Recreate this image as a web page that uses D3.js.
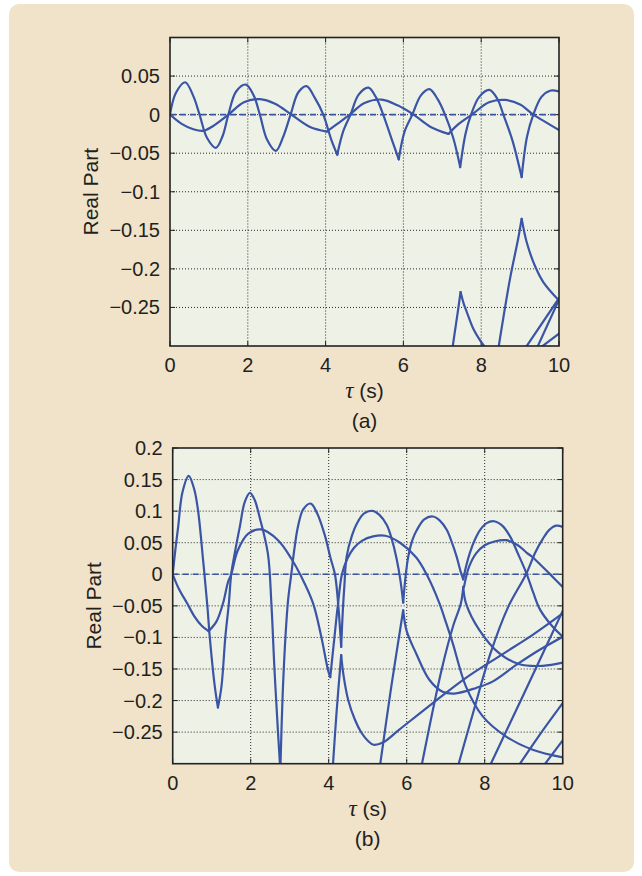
<!DOCTYPE html>
<html>
<head>
<meta charset="utf-8">
<script src="https://cdn.jsdelivr.net/npm/d3@7"></script>
<style>
html,body{margin:0;padding:0;background:#ffffff;}
svg{display:block;}
</style>
</head>
<body>
<svg id="chart" width="642" height="876"></svg>
<script>
// ---------- DATA ----------
const xTicks = [0, 2, 4, 6, 8, 10];
const xTickLabels = ["0", "2", "4", "6", "8", "10"];

const yTicksA = [0.05, 0, -0.05, -0.1, -0.15, -0.2, -0.25];
const yTickLabelsA = ["0.05", "0", "\u22120.05", "\u22120.1", "\u22120.15", "\u22120.2", "\u22120.25"];
const yTicksB = [0.2, 0.15, 0.1, 0.05, 0, -0.05, -0.1, -0.15, -0.2, -0.25];
const yTickLabelsB = ["0.2", "0.15", "0.1", "0.05", "0", "\u22120.05", "\u22120.1", "\u22120.15", "\u22120.2", "\u22120.25"];

// Plot (a): fast oscillating branch, split at cusps
const aFast1 = [[0,0],[0.15,0.028],[0.39,0.042],[0.6,0.024],[0.76,0],[0.95,-0.03],[1.18,-0.043],[1.35,-0.028],[1.5,0],[1.7,0.03],[1.95,0.039],[2.15,0.025],[2.31,0],[2.5,-0.033],[2.72,-0.047],[2.9,-0.03],[3.1,0],[3.3,0.029],[3.51,0.037],[3.72,0.022],[3.94,0],[4.15,-0.033],[4.30,-0.052]];
const aFast2 = [[4.30,-0.052],[4.45,-0.022],[4.64,0],[4.85,0.026],[5.10,0.035],[5.3,0.022],[5.48,0],[5.7,-0.032],[5.88,-0.058]];
const aFast3 = [[5.88,-0.058],[6.03,-0.022],[6.23,0],[6.45,0.025],[6.67,0.033],[6.88,0.02],[7.07,0],[7.28,-0.03],[7.46,-0.068]];
const aFast4 = [[7.46,-0.068],[7.6,-0.024],[7.74,0],[7.95,0.023],[8.21,0.032],[8.42,0.02],[8.57,0],[8.8,-0.033],[9.04,-0.081]];
const aFast5 = [[9.04,-0.081],[9.18,-0.028],[9.34,0],[9.55,0.023],[9.77,0.031],[10,0.030]];
// Plot (a): slow branch
const aSlow1 = [[0,0],[0.3,-0.012],[0.6,-0.019],[0.86,-0.021],[1.1,-0.015],[1.5,0],[1.9,0.016],[2.31,0.020],[2.7,0.014],[3.12,0],[3.6,-0.016],[4.03,-0.022]];
const aSlow2 = [[4.03,-0.022],[4.3,-0.012],[4.62,0],[5.0,0.015],[5.44,0.0195],[5.85,0.012],[6.26,0],[6.7,-0.016],[7.16,-0.025]];
const aSlow3 = [[7.16,-0.025],[7.4,-0.013],[7.76,0],[8.2,0.016],[8.61,0.019],[9.0,0.013],[9.34,0],[9.7,-0.011],[10,-0.020]];
// Plot (a): deeper branches
const aLow1 = [[7.24,-0.31],[7.40,-0.255],[7.47,-0.230]];
const aLow2 = [[7.47,-0.230],[7.55,-0.245],[7.63,-0.256],[7.8,-0.278],[7.95,-0.291],[8.12,-0.303]];
const aLow3 = [[8.42,-0.31],[8.74,-0.213],[8.95,-0.161],[9.04,-0.135]];
const aLow4 = [[9.04,-0.135],[9.17,-0.1655],[9.38,-0.196],[9.6,-0.2174],[10,-0.241]];
const aLow5 = [[9.13,-0.303],[10,-0.238]];
const aLow6 = [[9.43,-0.303],[10,-0.240]];
const aLow7 = [[9.50,-0.303],[10,-0.284]];

// Plot (b): fast branch
const bFast1 = [[0,0],[0.07,0.04],[0.14,0.075],[0.25,0.13],[0.41,0.156],[0.55,0.135],[0.65,0.101],[0.78,0.022],[0.89,-0.051],[0.95,-0.099],[1.08,-0.178],[1.16,-0.211]];
const bFast2 = [[1.16,-0.211],[1.25,-0.178],[1.35,-0.099],[1.44,-0.046],[1.5,0],[1.59,0.033],[1.72,0.075],[1.85,0.115],[1.98,0.129],[2.1,0.118],[2.23,0.09],[2.44,0.033],[2.53,-0.046],[2.61,-0.151],[2.70,-0.25],[2.76,-0.31]];
const bFast3 = [[2.76,-0.31],[2.82,-0.19],[2.9,-0.09],[2.96,-0.04],[3.04,0],[3.12,0.04],[3.21,0.075],[3.35,0.103],[3.54,0.112],[3.7,0.097],[3.9,0.062],[4.05,0.025],[4.16,0],[4.24,-0.045],[4.32,-0.115]];
const bFast4 = [[4.32,-0.115],[4.36,-0.06],[4.4,-0.02],[4.46,0.028],[4.6,0.062],[4.72,0.08],[4.9,0.096],[5.12,0.1005],[5.3,0.094],[5.49,0.078],[5.62,0.055],[5.74,0.025],[5.84,-0.01],[5.91,-0.045]];
const bFast5 = [[5.91,-0.045],[5.96,-0.01],[6.04,0.028],[6.15,0.055],[6.26,0.07],[6.45,0.087],[6.67,0.0915],[6.85,0.085],[7.03,0.07],[7.16,0.05],[7.28,0.028],[7.38,0.005],[7.45,-0.008]];
const bFast6 = [[7.45,-0.008],[7.52,0.012],[7.62,0.034],[7.75,0.055],[7.88,0.07],[8.05,0.081],[8.24,0.084],[8.45,0.077],[8.65,0.06],[8.85,0.033],[9.08,0],[9.25,-0.03],[9.42,-0.056],[9.7,-0.08],[10,-0.099]];
// Plot (b): slow branch
const bSlow1 = [[0,0],[0.15,-0.022],[0.37,-0.046],[0.56,-0.067],[0.75,-0.082],[0.92,-0.09]];
const bSlow2 = [[0.92,-0.09],[1.12,-0.075],[1.29,-0.046],[1.42,-0.012],[1.5,0],[1.67,0.038],[1.93,0.064],[2.27,0.071],[2.7,0.054],[3.04,0.025],[3.3,-0.004],[3.6,-0.046],[3.81,-0.099],[3.98,-0.151],[4.04,-0.163]];
const bSlow3 = [[4.04,-0.163],[4.13,-0.11],[4.24,-0.046],[4.34,0],[4.48,0.025],[4.65,0.042],[4.85,0.053],[5.14,0.06],[5.45,0.061],[5.83,0.05],[6.24,0.027],[6.51,0],[6.84,-0.046],[7.0,-0.075],[7.18,-0.109],[7.52,-0.178],[7.95,-0.225],[8.55,-0.257],[9.23,-0.278],[10,-0.290]];
const bSlow4 = [[7.47,-0.02],[7.52,-0.005],[7.6,0.012],[7.78,0.033],[8.0,0.046],[8.25,0.052],[8.55,0.054],[8.85,0.046],[9.08,0.034],[9.23,0.027],[9.45,0.014],[9.66,0.001],[10,-0.020]];
// Plot (b): branches rising from below
const bLow1 = [[4.10,-0.31],[4.2,-0.22],[4.32,-0.128]];
const bLow2 = [[4.32,-0.128],[4.38,-0.16],[4.5,-0.199],[4.67,-0.23],[4.84,-0.251],[5.01,-0.264],[5.15,-0.27],[5.4,-0.266],[5.81,-0.246],[6.67,-0.204],[7.52,-0.164],[8.37,-0.13],[9.23,-0.096],[10,-0.062]];
const bLow3 = [[5.30,-0.31],[5.6,-0.18],[5.91,-0.057]];
const bLow4 = [[5.91,-0.057],[6.0,-0.09],[6.24,-0.125],[6.58,-0.167],[6.92,-0.186],[7.22,-0.189],[7.78,-0.18],[8.2,-0.17],[8.8,-0.144],[9.4,-0.12],[10,-0.099]];
const bLow5 = [[6.36,-0.31],[6.9,-0.15],[7.2,-0.08],[7.39,-0.046],[7.45,-0.02]];
const bLow6 = [[7.45,-0.02],[7.52,-0.046],[7.86,-0.088],[8.37,-0.125],[8.89,-0.1425],[9.49,-0.145],[10,-0.140]];
const bLow7 = [[7.31,-0.305],[7.7,-0.22],[8.15,-0.125],[8.6,-0.052],[9.06,0],[9.3,0.035],[9.49,0.056],[9.65,0.07],[9.83,0.077],[10,0.075]];
const bLow8 = [[8.12,-0.305],[9.0,-0.19],[10,-0.058]];
const bLow9 = [[8.85,-0.305],[9.4,-0.255],[10,-0.204]];
const bLow10 = [[9.49,-0.305],[10,-0.263]];

const curvesA = [aFast1,aFast2,aFast3,aFast4,aFast5,aSlow1,aSlow2,aSlow3,aLow1,aLow2,aLow3,aLow4,aLow5,aLow6,aLow7];
const curvesB = [bFast1,bFast2,bFast3,bFast4,bFast5,bFast6,bSlow1,bSlow2,bSlow3,bSlow4,bLow1,bLow2,bLow3,bLow4,bLow5,bLow6,bLow7,bLow8,bLow9,bLow10];

// ---------- DRAW ----------
const svg = d3.select("#chart");
const FONT = "'Liberation Sans', Arial, Helvetica, sans-serif";
const TXT = "#231f20";
const BLUE = "#3a54a6";

svg.append("rect").attr("x", 9).attr("y", 4).attr("width", 625).attr("height", 868)
  .attr("rx", 10).attr("fill", "#f0e3c9");

function drawPlot(cfg, id) {
  const x = d3.scaleLinear().domain([0, 10]).range([cfg.x0, cfg.x1]);
  const y = d3.scaleLinear().domain(cfg.yDomain).range([cfg.y1, cfg.y0]);
  const g = svg.append("g");

  g.append("rect").attr("x", cfg.x0).attr("y", cfg.y0)
    .attr("width", cfg.x1 - cfg.x0).attr("height", cfg.y1 - cfg.y0)
    .attr("fill", "#eef1e6");

  // grid
  g.selectAll(".gx").data(xTicks.filter(t => t > 0 && t < 10)).enter().append("line")
    .attr("x1", d => x(d)).attr("x2", d => x(d)).attr("y1", cfg.y0).attr("y2", cfg.y1)
    .attr("stroke", "#2a2a2a").attr("stroke-width", 1).attr("stroke-dasharray", "1,2");
  g.selectAll(".gy").data(cfg.yTicks.filter(t => t > cfg.yDomain[0] && t < cfg.yDomain[1])).enter().append("line")
    .attr("x1", cfg.x0).attr("x2", cfg.x1).attr("y1", d => y(d)).attr("y2", d => y(d))
    .attr("stroke", "#2a2a2a").attr("stroke-width", 1).attr("stroke-dasharray", "1,2");

  // inward ticks
  const tl = 5;
  xTicks.forEach(t => {
    g.append("line").attr("x1", x(t)).attr("x2", x(t)).attr("y1", cfg.y1).attr("y2", cfg.y1 - tl).attr("stroke", "#222");
    g.append("line").attr("x1", x(t)).attr("x2", x(t)).attr("y1", cfg.y0).attr("y2", cfg.y0 + tl).attr("stroke", "#222");
  });
  cfg.yTicks.forEach(t => {
    g.append("line").attr("x1", cfg.x0).attr("x2", cfg.x0 + tl).attr("y1", y(t)).attr("y2", y(t)).attr("stroke", "#222");
    g.append("line").attr("x1", cfg.x1).attr("x2", cfg.x1 - tl).attr("y1", y(t)).attr("y2", y(t)).attr("stroke", "#222");
  });

  // clip
  svg.append("clipPath").attr("id", id).append("rect")
    .attr("x", cfg.x0).attr("y", cfg.y0).attr("width", cfg.x1 - cfg.x0).attr("height", cfg.y1 - cfg.y0);
  const cg = g.append("g").attr("clip-path", `url(#${id})`);

  // zero dashed line
  cg.append("line").attr("x1", x(0)).attr("x2", x(10)).attr("y1", y(0)).attr("y2", y(0))
    .attr("stroke", BLUE).attr("stroke-width", 1.6).attr("stroke-dasharray", "6,4");

  const line = d3.line().x(d => x(d[0])).y(d => y(d[1])).curve(d3.curveCatmullRom.alpha(0.5));
  cg.selectAll(".c").data(cfg.curves).enter().append("path")
    .attr("d", line).attr("fill", "none").attr("stroke", BLUE)
    .attr("stroke-width", 2.2).attr("stroke-linejoin", "round").attr("stroke-linecap", "round");

  // frame
  g.append("rect").attr("x", cfg.x0).attr("y", cfg.y0)
    .attr("width", cfg.x1 - cfg.x0).attr("height", cfg.y1 - cfg.y0)
    .attr("fill", "none").attr("stroke", "#222").attr("stroke-width", 1.6);

  // tick labels
  g.selectAll(".xl").data(xTicks).enter().append("text")
    .attr("x", d => x(d)).attr("y", cfg.y1 + 26).attr("text-anchor", "middle")
    .attr("font-family", FONT).attr("font-size", 20).attr("fill", TXT)
    .text((d, i) => xTickLabels[i]);
  g.selectAll(".yl").data(cfg.yTicks).enter().append("text")
    .attr("x", cfg.x0 - 10).attr("y", d => y(d) + 7).attr("text-anchor", "end")
    .attr("font-family", FONT).attr("font-size", 20).attr("fill", TXT)
    .text((d, i) => cfg.yTickLabels[i]);

  // axis labels
  g.append("text").attr("transform", `translate(${cfg.x0 - 72},${(cfg.y0 + cfg.y1) / 2}) rotate(-90)`)
    .attr("text-anchor", "middle").attr("font-family", FONT).attr("font-size", 21).attr("fill", TXT)
    .text("Real Part");
  const xl = g.append("text").attr("x", (cfg.x0 + cfg.x1) / 2).attr("y", cfg.y1 + 52)
    .attr("text-anchor", "middle").attr("font-family", FONT).attr("font-size", 21).attr("fill", TXT);
  xl.append("tspan").attr("font-family", "'Liberation Serif', 'DejaVu Serif', serif").attr("font-style", "italic").attr("font-size", 23).text("\u03C4");
  xl.append("tspan").text(" (s)");
  g.append("text").attr("x", (cfg.x0 + cfg.x1) / 2).attr("y", cfg.y1 + 82)
    .attr("text-anchor", "middle").attr("font-family", FONT).attr("font-size", 21).attr("fill", TXT)
    .text(cfg.label);
}

drawPlot({x0: 170, x1: 559, y0: 37.5, y1: 346, yDomain: [-0.3, 0.1],
  yTicks: yTicksA, yTickLabels: yTickLabelsA, curves: curvesA, label: "(a)"}, "clipA");
drawPlot({x0: 172.7, x1: 562.7, y0: 448, y1: 763.7, yDomain: [-0.3, 0.2],
  yTicks: yTicksB, yTickLabels: yTickLabelsB, curves: curvesB, label: "(b)"}, "clipB");
</script>
</body>
</html>
